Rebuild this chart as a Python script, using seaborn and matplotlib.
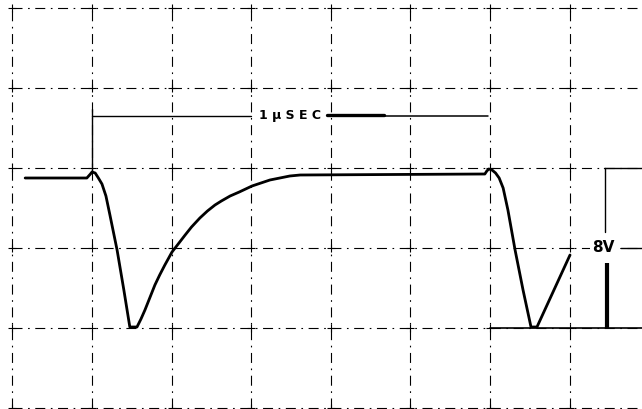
import numpy as np
import pandas as pd
import matplotlib
matplotlib.use("Agg")
import matplotlib.pyplot as plt
import seaborn as sns

# oscilloscope trace: time in usec, amplitude in volts
trace_t = [-0.168, -0.013, -0.004, 0.0, 0.008, 0.016, 0.025, 0.035, 0.045, 0.063,
           0.080, 0.095, 0.113, 0.123, 0.133, 0.145, 0.158, 0.170, 0.183, 0.201,
           0.234, 0.250, 0.271, 0.290, 0.309, 0.325, 0.347, 0.370, 0.402, 0.447,
           0.497, 0.523, 0.987, 0.992, 0.997, 1.005, 1.014, 1.023, 1.033, 1.045,
           1.063, 1.083, 1.103, 1.118, 1.201]
trace_v = [7.5, 7.5, 7.7, 7.8, 7.75, 7.5, 7.2, 6.6, 5.65, 3.9,
           1.9, 0.05, 0.05, 0.45, 0.9, 1.5, 2.15, 2.65, 3.15, 3.8,
           4.65, 5.05, 5.5, 5.85, 6.15, 6.35, 6.6, 6.8, 7.1, 7.4,
           7.6, 7.65, 7.7, 7.85, 7.95, 7.9, 7.75, 7.5, 7.0, 5.9,
           3.9, 1.9, 0.05, 0.05, 3.65]

# graticule: 0.2 usec / div, 4 V / div
grid_t = [-0.2, 0.0, 0.2, 0.4, 0.6, 0.8, 1.0, 1.2]
grid_v = [-4, 0, 4, 8, 12, 16]

# annotations
period_start, period_end, period_level = 0.0, 0.995, 10.6
period_label = "1 \u03bc S E C"
amp_t = 1.294
amp_low, amp_high = 0.0, 8.0
amp_label = "8V"

df = pd.DataFrame({"t": trace_t, "v": trace_v})

sns.set_style("white")
fig = plt.figure(figsize=(6.42, 4.09), dpi=100)
ax = fig.add_axes([0, 0, 1, 1])
ax.set_xlim(-0.2312, 1.3819)
ax.set_ylim(-4.05, 16.4)
ax.axis("off")

# broken graticule lines
dash = (0, (9, 5, 1.5, 5))
ax.vlines(grid_t, grid_v[0], grid_v[-1], colors="black", lw=0.8, linestyles=[dash])
ax.hlines(grid_v, grid_t[0], 1.3819, colors="black", lw=0.8, linestyles=[dash])

# little crosses where graticule lines meet
gt, gv = np.meshgrid(grid_t, grid_v)
ax.scatter(gt.ravel(), gv.ravel(), marker="+", s=28, color="black", lw=0.8, zorder=2)

sns.lineplot(data=df, x="t", y="v", sort=False, estimator=None,
             color="black", lw=2.0, ax=ax, zorder=3)

# 1 usec marker
ax.plot([period_start, 0.4], [period_level] * 2, color="black", lw=1.0)
ax.text(0.4975, period_level, period_label, ha="center", va="center",
        fontsize=9, fontweight="semibold", color="black", zorder=4,
        bbox=dict(facecolor="white", edgecolor="none", pad=1.0))
ax.plot([0.59, 0.733], [period_level + 0.03] * 2, color="black", lw=2.4, zorder=5)
ax.plot([0.733, period_end], [period_level] * 2, color="black", lw=1.1)
ax.plot([period_start, period_start], [period_level + 0.35, 7.8], color="black", lw=1.0)

# 8 V marker
ax.text(1.2839, 4.0, amp_label, ha="center", va="center",
        fontsize=11, fontweight="semibold", color="black", zorder=4,
        bbox=dict(facecolor="white", edgecolor="none", pad=1.5))
ax.plot([amp_t, amp_t], [amp_low, 3.25], color="black", lw=3.0, solid_capstyle="butt")
ax.plot([amp_t - 0.005, amp_t - 0.005], [4.8, amp_high], color="black", lw=1.0)
ax.plot([amp_t - 0.008, 1.3819], [amp_high] * 2, color="black", lw=1.0)
ax.plot([1.33, 1.3819], [4.0, 4.0], color="black", lw=1.0)
ax.plot([1.0, 1.3819], [amp_low] * 2, color="black", lw=1.2)

fig.savefig("out.png", dpi=100)
